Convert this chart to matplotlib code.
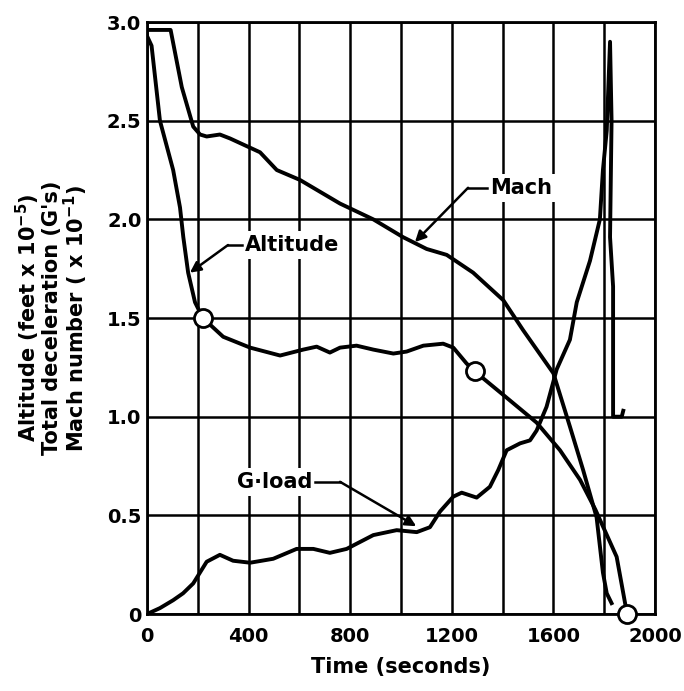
import matplotlib
matplotlib.use('Agg')
import matplotlib.pyplot as plt

mach_t = [0, 12, 93, 137, 182, 209, 235, 287, 327, 445, 511, 602, 681, 760, 891,
          1008, 1101, 1180, 1284, 1403, 1480, 1600, 1665, 1717, 1770, 1795, 1810, 1829]
mach_y = [2.96, 2.96, 2.96, 2.67, 2.47, 2.43, 2.42, 2.43, 2.41, 2.34, 2.25, 2.20, 2.14, 2.08, 2.00,
          1.91, 1.85, 1.82, 1.73, 1.59, 1.44, 1.22, 0.95, 0.73, 0.49, 0.21, 0.105, 0.055]

altitude_t = [0, 18, 51, 103, 130, 143, 162, 189, 220, 300, 406, 524, 615, 668, 720, 760,
              825, 891, 970, 1022, 1088, 1166, 1206, 1258, 1290, 1403, 1534, 1626, 1705,
              1765, 1849, 1890]
altitude_y = [2.93, 2.88, 2.50, 2.25, 2.06, 1.91, 1.73, 1.58, 1.50, 1.405, 1.35, 1.31, 1.34,
              1.355, 1.325, 1.35, 1.36, 1.34, 1.32, 1.33, 1.36, 1.37, 1.35, 1.27, 1.23, 1.11,
              0.97, 0.83, 0.68, 0.53, 0.29, 0.0]

gload_t = [0, 51, 103, 142, 182, 235, 287, 339, 406, 497, 589, 655, 720, 786, 891, 983,
           1062, 1114, 1154, 1206, 1239, 1298, 1350, 1383, 1416, 1469, 1508, 1534, 1573,
           1613, 1665, 1692, 1744, 1783, 1795, 1810, 1823, 1829, 1823, 1835, 1835, 1869, 1875]
gload_y = [0.0, 0.03, 0.07, 0.105, 0.155, 0.265, 0.30, 0.27, 0.26, 0.28, 0.33, 0.33, 0.31,
           0.33, 0.40, 0.425, 0.415, 0.44, 0.52, 0.595, 0.615, 0.59, 0.645, 0.73, 0.83,
           0.865, 0.88, 0.93, 1.05, 1.24, 1.39, 1.58, 1.79, 2.0, 2.25, 2.45, 2.90, 2.50,
           1.91, 1.66, 1.0, 1.0, 1.03]

marker_t = [220, 1290, 1890]
marker_y = [1.50, 1.23, 0.0]

x_ticks = [0, 400, 800, 1200, 1600, 2000]
x_grid = list(range(0, 2001, 200))
y_ticks = [0, 0.5, 1.0, 1.5, 2.0, 2.5, 3.0]
y_labels = ['0', '0.5', '1.0', '1.5', '2.0', '2.5', '3.0']

plt.rcParams['font.family'] = ['DejaVu Sans']
plt.rcParams['font.weight'] = 'bold'

fig = plt.figure(figsize=(6.84, 6.91), dpi=100)
ax = fig.add_axes([0.2149, 0.1114, 0.7427, 0.8567])

ax.set_xlim(0, 2000)
ax.set_ylim(0, 3.0)

ax.set_xticks(x_grid)
ax.set_xticklabels([str(t) if t in x_ticks else '' for t in x_grid])
ax.set_yticks(y_ticks)
ax.set_yticklabels(y_labels)
ax.tick_params(length=0, labelsize=14)
ax.tick_params(axis='x', pad=9)
ax.tick_params(axis='y', pad=4)
ax.grid(True, color='black', lw=1.8)
ax.set_axisbelow(True)
for s in ax.spines.values():
    s.set_linewidth(2)

lw = 2.8
ax.plot(mach_t, mach_y, color='black', lw=lw, solid_joinstyle='round', zorder=3)
ax.plot(altitude_t, altitude_y, color='black', lw=lw, solid_joinstyle='round', zorder=3)
ax.plot(gload_t, gload_y, color='black', lw=lw, solid_joinstyle='round', zorder=3)
ax.plot(marker_t, marker_y, 'o', ms=13, mfc='white', mec='black', mew=2,
        clip_on=False, zorder=5)

# labels with leaders
arrow = dict(arrowstyle='-|>', color='black', lw=1.8, mutation_scale=16,
             shrinkA=0, shrinkB=0)
box = dict(facecolor='white', edgecolor='none', pad=3)

ax.text(1350, 2.16, 'Mach', fontsize=15, fontweight='bold', ha='left', va='center',
        bbox=box, zorder=4)
ax.plot([1340, 1264], [2.16, 2.16], color='black', lw=1.8, zorder=4)
ax.annotate('', xy=(1055, 1.885), xytext=(1264, 2.16), arrowprops=arrow, zorder=4)

ax.text(386, 1.87, 'Altitude', fontsize=15, fontweight='bold', ha='left', va='center',
        bbox=box, zorder=4)
ax.plot([375, 319], [1.87, 1.87], color='black', lw=1.8, zorder=4)
ax.annotate('', xy=(169, 1.73), xytext=(319, 1.87), arrowprops=arrow, zorder=4)

ax.text(650, 0.67, 'G\u00b7load', fontsize=15, fontweight='bold', ha='right', va='center',
        bbox=box, zorder=4)
ax.plot([660, 760], [0.67, 0.67], color='black', lw=1.8, zorder=4)
ax.annotate('', xy=(1060, 0.445), xytext=(760, 0.67), arrowprops=arrow, zorder=4)

ax.set_xlabel('Time (seconds)', fontsize=15, fontweight='bold', labelpad=8)
ax.set_ylabel('Altitude (feet x 10$^{\\mathbf{-5}}$)\nTotal deceleration (G\'s)\n'
              'Mach number ( x 10$^{\\mathbf{-1}}$)',
              fontsize=15, fontweight='bold', labelpad=12, linespacing=1.0)

fig.savefig('out.png', dpi=100)
